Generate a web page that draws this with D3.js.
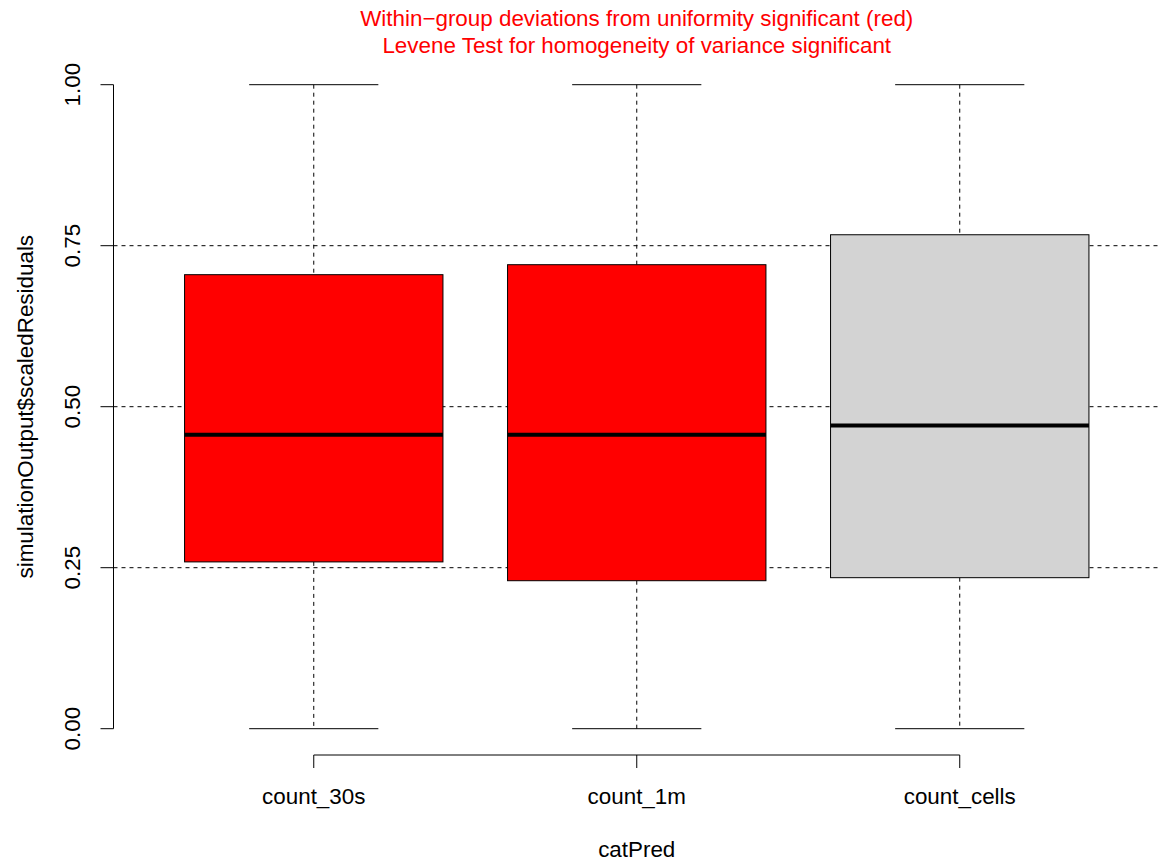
<!DOCTYPE html>
<html><head><meta charset="utf-8">
<script src="https://cdn.jsdelivr.net/npm/d3@7"></script>
<style>body{margin:0;background:#fff}</style>
</head><body>
<svg id="c" width="1158" height="866"></svg>
<script>
const categories = ["count_30s", "count_1m", "count_cells"];
const lowerWhisker = [0.0, 0.0, 0.0];
const q1 = [0.259, 0.2298, 0.2345];
const median = [0.4565, 0.4565, 0.471];
const q3 = [0.705, 0.7205, 0.767];
const upperWhisker = [1.0, 1.0, 1.0];
const fills = ["#ff0000", "#ff0000", "#d3d3d3"];
const yTicks = [0, 0.25, 0.5, 0.75, 1.0];
const refLines = [0.25, 0.5, 0.75];
const titleLines = ["Within\u2212group deviations from uniformity significant (red)", "Levene Test for homogeneity of variance significant"];

const svg = d3.select("#c");
const font = "Liberation Sans, Arial, sans-serif";
const fs = 22.4;
const x = d3.scaleLinear().domain([0.38, 3.62]).range([113.5, 1160]);
const y = d3.scaleLinear().domain([0, 1]).range([728.7, 84.7]);

// reference lines
svg.selectAll("line.ref").data(refLines).enter().append("line")
  .attr("x1", 113.5).attr("x2", 1158)
  .attr("y1", d => y(d)).attr("y2", d => y(d))
  .attr("stroke", "#000").attr("stroke-width", 1).attr("stroke-dasharray", "4,4");

const data = categories.map((c, i) => ({c, i: i + 1, lo: lowerWhisker[i], q1: q1[i], med: median[i], q3: q3[i], hi: upperWhisker[i], fill: fills[i]}));
const bw = (x(1.4) - x(0.6));
const g = svg.selectAll("g.box").data(data).enter().append("g");
// whiskers
g.append("line").attr("x1", d => x(d.i)).attr("x2", d => x(d.i))
  .attr("y1", d => y(d.hi)).attr("y2", d => y(d.q3))
  .attr("stroke", "#000").attr("stroke-dasharray", "4,4");
g.append("line").attr("x1", d => x(d.i)).attr("x2", d => x(d.i))
  .attr("y1", d => y(d.q1)).attr("y2", d => y(d.lo))
  .attr("stroke", "#000").attr("stroke-dasharray", "4,4");
// caps
g.append("line").attr("x1", d => x(d.i - 0.2)).attr("x2", d => x(d.i + 0.2))
  .attr("y1", d => y(d.hi)).attr("y2", d => y(d.hi)).attr("stroke", "#000");
g.append("line").attr("x1", d => x(d.i - 0.2)).attr("x2", d => x(d.i + 0.2))
  .attr("y1", d => y(d.lo)).attr("y2", d => y(d.lo)).attr("stroke", "#000");
// box
g.append("rect").attr("x", d => x(d.i - 0.4)).attr("width", bw)
  .attr("y", d => y(d.q3)).attr("height", d => y(d.q1) - y(d.q3))
  .attr("fill", d => d.fill).attr("stroke", "#000").attr("stroke-width", 1);
// median
g.append("line").attr("x1", d => x(d.i - 0.4)).attr("x2", d => x(d.i + 0.4))
  .attr("y1", d => y(d.med)).attr("y2", d => y(d.med))
  .attr("stroke", "#000").attr("stroke-width", 4);

// y axis
const ya = svg.append("g").attr("transform", "translate(113.5,0)");
ya.append("line").attr("x1", 0).attr("x2", 0).attr("y1", y(0)).attr("y2", y(1)).attr("stroke", "#000");
ya.selectAll("line.t").data(yTicks).enter().append("line")
  .attr("x1", -13).attr("x2", 0).attr("y1", d => y(d)).attr("y2", d => y(d)).attr("stroke", "#000");
ya.selectAll("text").data(yTicks).enter().append("text")
  .attr("transform", d => `translate(-33.5,${y(d)}) rotate(-90)`)
  .attr("text-anchor", "middle").attr("font-family", font).attr("font-size", fs)
  .text(d => d3.format(".2f")(d));

// x axis
const xa = svg.append("g").attr("transform", "translate(0,755)");
xa.append("line").attr("x1", x(1)).attr("x2", x(3)).attr("y1", 0).attr("y2", 0).attr("stroke", "#000");
xa.selectAll("line.t").data(data).enter().append("line")
  .attr("x1", d => x(d.i)).attr("x2", d => x(d.i)).attr("y1", 0).attr("y2", 13).attr("stroke", "#000");
xa.selectAll("text").data(data).enter().append("text")
  .attr("x", d => x(d.i)).attr("y", 49).attr("text-anchor", "middle")
  .attr("font-family", font).attr("font-size", fs).text(d => d.c);

// axis titles
svg.append("text").attr("x", x(2)).attr("y", 857).attr("text-anchor", "middle")
  .attr("font-family", font).attr("font-size", fs).text("catPred");
svg.append("text").attr("transform", `translate(33,${y(0.5)}) rotate(-90)`).attr("text-anchor", "middle")
  .attr("font-family", font).attr("font-size", fs).text("simulationOutput$scaledResiduals");

// title
svg.selectAll("text.title").data(titleLines).enter().append("text")
  .attr("x", x(2)).attr("y", (d, i) => 26 + i * 27).attr("text-anchor", "middle")
  .attr("font-family", font).attr("font-size", fs).attr("fill", "#ff0000").text(d => d);
</script>
</body></html>
